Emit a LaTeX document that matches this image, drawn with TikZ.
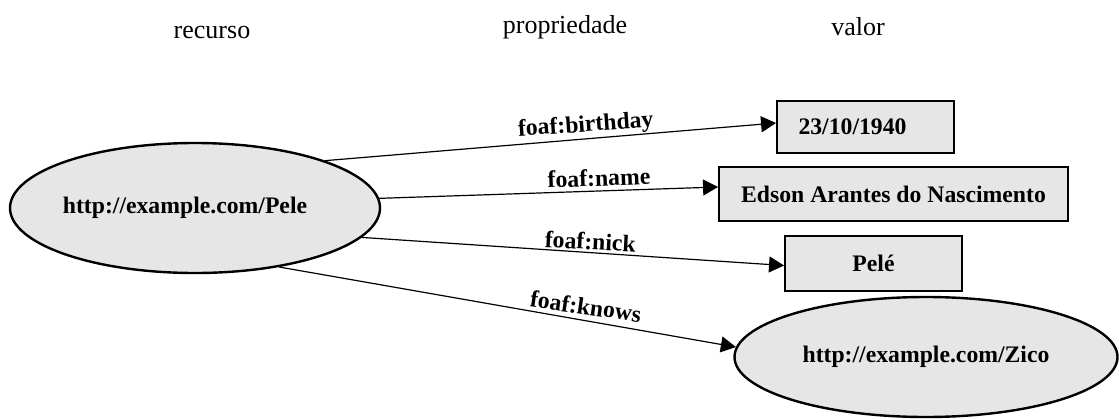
\documentclass[tikz,border=0pt]{standalone}
\usepackage{fontspec}
\setmainfont{Liberation Serif}
\usetikzlibrary{arrows.meta,shapes.geometric}
\definecolor{nodefill}{HTML}{E6E6E6}
\tikzset{
  res/.style={ellipse, draw=black, line width=2.4pt, fill=nodefill, inner sep=0pt,
    font=\fontsize{23.7}{28}\selectfont\bfseries},
  lit/.style={rectangle, draw=black, line width=1.9pt, fill=nodefill, inner sep=0pt,
    font=\fontsize{23.7}{28}\selectfont\bfseries},
  head/.style={anchor=base, inner sep=0pt, font=\fontsize{26}{30}\selectfont},
  rel/.style={-{Triangle[length=15pt,width=16pt]}, line width=1.2pt},
  lbl/.style={anchor=south, inner sep=1.5pt, font=\fontsize{23.7}{28}\selectfont\bfseries}
}
\begin{document}
\begin{tikzpicture}[x=1pt,y=-1pt]
\useasboundingbox (0,0) rectangle (1119,418);
% column headings
\node[head] (hres) at (212,38) {recurso};
\node[head] (hprop) at (565,33) {propriedade};
\node[head] (hval) at (858,35) {valor};
% nodes
\node[res, minimum width=370, minimum height=130] (pele) at (195,208) {\hspace*{-20pt}\raisebox{4pt}{http://example.com/Pele}};
\node[lit, minimum width=177, minimum height=52] (birth) at (865.5,127) {\hspace*{-26pt}23/10/1940};
\node[lit, minimum width=349, minimum height=54] (name) at (893.5,194) {Edson Arantes do Nascimento};
\node[lit, minimum width=177, minimum height=55] (nick) at (873.5,263.5) {Pelé};
\node[res, minimum width=383, minimum height=120] (zico) at (926,357) {\raisebox{-4pt}{http://example.com/Zico}};
% connectors
\draw[rel] (pele.20) -- ([yshift=4pt]birth.west) node[lbl, pos=0.58, rotate=4] (lb) {foaf:birthday};
\draw[rel] (pele.3) -- ([yshift=7pt]name.west) node[lbl, pos=0.65, rotate=2, inner sep=4pt] (ln) {foaf:name};
\draw[rel] (pele.-10) -- ([yshift=-2pt]nick.west) node[lbl, pos=0.54, rotate=-3, inner sep=2pt] (lk) {foaf:nick};
\draw[rel] (pele.-35) -- (zico.177) node[lbl, pos=0.667, rotate=-8, inner sep=5pt] (lw) {foaf:knows};
\end{tikzpicture}
\end{document}
